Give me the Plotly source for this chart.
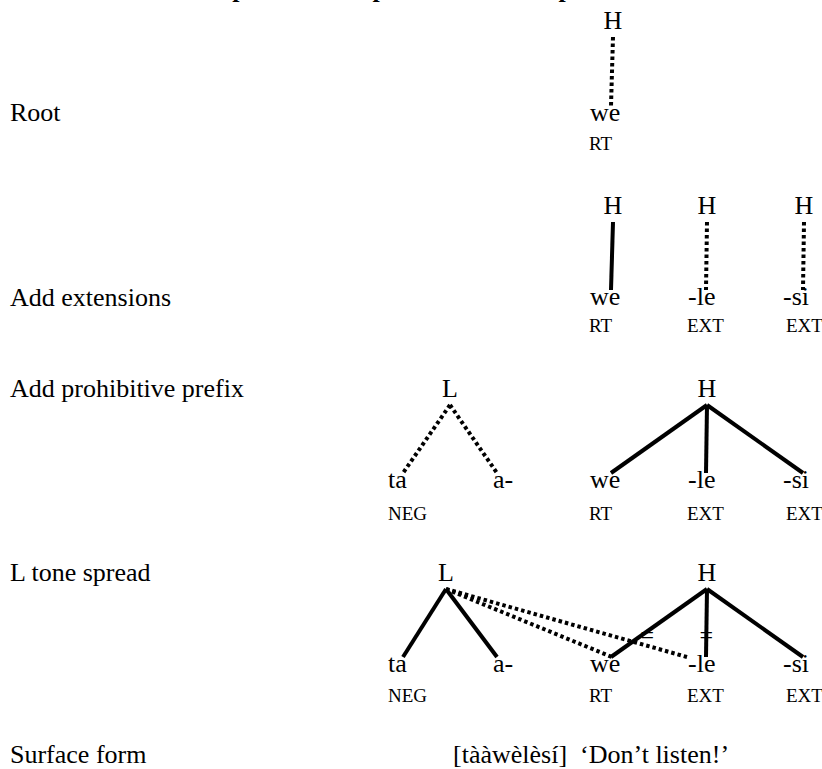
import plotly.graph_objects as go

# ---------------- data ----------------
title_text = "Post-lexical L tone spread in the prohibitive verb phrase"
stage_labels = ["Root", "Add extensions", "Add prohibitive prefix", "L tone spread", "Surface form"]
morphemes = ["ta", "a-", "we", "-le", "-si"]
glosses = ["NEG", "", "RT", "EXT", "EXT"]
surface_form = "[tààwèlèsí]\u00a0 \u2018Don\u2019t listen!\u2019"

# morphemes present at each derivation stage
stage_morphs = [[2], [2, 3, 4], [0, 1, 2, 3, 4], [0, 1, 2, 3, 4]]
# tones at each stage: (tone letter, column position key)
stage_tones = [
    [("H", "we")],
    [("H", "we"), ("H", "le"), ("H", "si")],
    [("L", "L3"), ("H", "le")],
    [("L", "L4"), ("H", "le")],
]
# associations: (tone index, morpheme index, style, anchor kind)
stage_links = [
    [(0, 2, "dot", "c")],
    [(0, 2, "solid", "c"), (1, 3, "dot", "c"), (2, 4, "dot", "c")],
    [(0, 0, "dot", "c"), (0, 1, "dot", "c"), (1, 2, "solid", "c"), (1, 3, "solid", "c"), (1, 4, "solid", "c")],
    [(0, 0, "solid", "c"), (0, 1, "solid", "c"), (0, 2, "dot", "l"), (0, 3, "dot", "l"),
     (1, 2, "solid", "c"), (1, 3, "solid", "c"), (1, 4, "solid", "c")],
]
# delinked associations in the last stage (tone index, morpheme index)
delinked = [(1, 2), (1, 3)]

# ---------------- layout geometry ----------------
W, H = 822, 769
FONT = "Liberation Serif"
label_x = 10
morph_text_x = [388, 493, 590, 688, 783]
gloss_text_x = [388, 493, 589, 687, 786]
morph_anchor_c = [403, 497, 611, 706, 803]
morph_anchor_l = [403, 497, 612, 687, 803]
tone_col_x = {"we": 613, "le": 707, "si": 804, "L3": 450, "L4": 446}
tone_y = [22, 207, 390, 574]
seg_y = [114, 298, 481, 665]
gloss_y = [145, 327, 515, 697]
label_y = [114, 299, 390, 574, 756]
surface_x = 453
tone_gap, seg_gap = 15, 8
delink_y = 637
delink_dx = [8, 0]
title_center_y = -11

fig = go.Figure()

def add_text(xs, ys, texts, size, pos):
    fig.add_trace(go.Scatter(x=xs, y=ys, text=texts, mode="text", textposition=pos,
                             textfont=dict(family=FONT, size=size, color="black"),
                             cliponaxis=False, hoverinfo="skip"))

# stage labels
add_text([label_x] * len(stage_labels), label_y, stage_labels, 26, "middle right")

# lines
for s in range(len(stage_morphs)):
    tones = stage_tones[s]
    for style in ["solid", "dot"]:
        xs, ys = [], []
        for (ti, mi, st, kind) in stage_links[s]:
            if st != style:
                continue
            tx = tone_col_x[tones[ti][1]]
            mx = morph_anchor_c[mi] if kind == "c" else morph_anchor_l[mi]
            xs += [tx, mx, None]
            ys += [tone_y[s] + tone_gap, seg_y[s] - seg_gap, None]
        if xs:
            fig.add_trace(go.Scatter(x=xs, y=ys, mode="lines", hoverinfo="skip",
                                     line=dict(color="black", width=4,
                                               dash="solid" if style == "solid" else "3.5px,3px")))
    # tones
    add_text([tone_col_x[t[1]] for t in tones], [tone_y[s]] * len(tones), [t[0] for t in tones], 26, "middle center")
    # morphemes
    ms = stage_morphs[s]
    add_text([morph_text_x[m] for m in ms], [seg_y[s]] * len(ms), [morphemes[m] for m in ms], 26, "middle right")
    add_text([gloss_text_x[m] for m in ms], [gloss_y[s]] * len(ms), [glosses[m] for m in ms], 19, "middle right")

# delinking marks
s = 3
dx, dy = [], []
for k, (ti, mi) in enumerate(delinked):
    tx = tone_col_x[stage_tones[s][ti][1]]
    mx = morph_anchor_c[mi]
    y0, y1 = tone_y[s] + tone_gap, seg_y[s] - seg_gap
    t = (delink_y - y0) / (y1 - y0)
    dx.append(tx + (mx - tx) * t + delink_dx[k])
    dy.append(delink_y)
add_text(dx, dy, ["="] * len(dx), 24, "middle center")

# surface form
add_text([surface_x], [label_y[4]], [surface_form], 26, "middle right")

# title (partly cut off at top edge of the page)
fig.add_annotation(x=label_x / W, y=1 - title_center_y / H, xref="paper", yref="paper",
                   text="<b>%s</b>" % title_text,
                   showarrow=False, xanchor="left", yanchor="middle",
                   font=dict(family=FONT, size=26, color="black"))

fig.update_layout(width=W, height=H, margin=dict(l=0, r=0, t=0, b=0),
                  paper_bgcolor="white", plot_bgcolor="white", showlegend=False,
                  xaxis=dict(range=[0, W], visible=False, fixedrange=True),
                  yaxis=dict(range=[H, 0], visible=False, fixedrange=True))
fig.write_html("out.html", config={"displayModeBar": False},
               post_script="document.body.style.margin='0';document.body.style.overflow='hidden';")
